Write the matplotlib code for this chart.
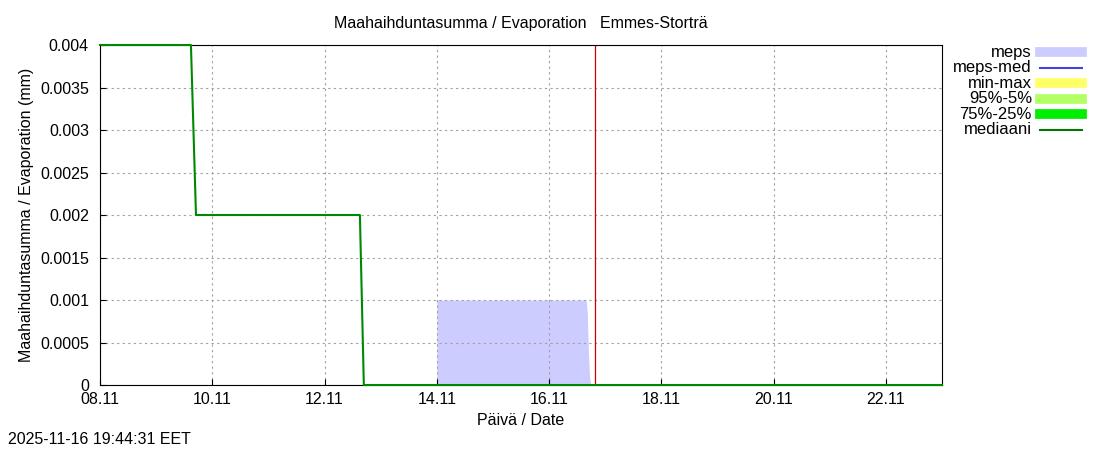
import matplotlib.pyplot as plt
import numpy as np

# days since 08.11 00:00
median_x = [0.0, 1.62, 1.71, 4.63, 4.70, 15.0]
median_y = [0.004, 0.004, 0.002, 0.002, 0.0, 0.0]

meps_x = [6.0, 6.0, 8.66, 8.68, 8.70, 8.72, 8.74]
meps_y = [0.0, 0.001, 0.001, 0.00085, 0.0004, 0.0001, 0.0]

now_x = 8.82
tick_days = [0, 2, 4, 6, 8, 10, 12, 14]
tick_labels = ["08.11", "10.11", "12.11", "14.11", "16.11", "18.11", "20.11", "22.11"]
y_ticks = [0, 0.0005, 0.001, 0.0015, 0.002, 0.0025, 0.003, 0.0035, 0.004]
y_labels = ["0", "0.0005", "0.001", "0.0015", "0.002", "0.0025", "0.003", "0.0035", "0.004"]

legend_names = ["meps", "meps-med", "min-max", "95%-5%", "75%-25%", "mediaani"]
legend_colors = ["#ccccff", "#4444dd", "#ffff66", "#b3ff66", "#00ee00", "#007700"]
legend_widths = [7, 1.5, 7, 7, 7, 1.5]

plt.rcParams["font.family"] = ["Liberation Sans", "DejaVu Sans"]
fig = plt.figure(figsize=(11, 4.5), dpi=100)
ax = fig.add_axes([0.0909, 0.1444, 0.7655, 0.7556])

ax.fill_between(meps_x, meps_y, 0, color="#ccccff", linewidth=0)
ax.plot(median_x, median_y, color="#008800", linewidth=1.5, clip_on=False, zorder=5)
ax.axvline(now_x, color="#cc0000", linewidth=0.9)

ax.set_xlim(0, 15)
ax.set_ylim(0, 0.004)
ax.set_xticks(tick_days)
ax.set_xticklabels(tick_labels)
ax.set_yticks(y_ticks)
ax.set_yticklabels(y_labels)
ax.tick_params(labelsize=11.5, direction="in", length=4)
ax.tick_params(axis="y", pad=8)
ax.tick_params(axis="x", pad=5)
ax.grid(color="#a0a0a0", linestyle=(0, (2, 3)), linewidth=0.8)
for s in ax.spines.values():
    s.set_linewidth(0.8)

ax.set_xlabel("Päivä / Date", fontsize=11.5)
ax.set_ylabel("Maahaihduntasumma / Evaporation (mm)", fontsize=11.5)
ax.set_title("Maahaihduntasumma / Evaporation   Emmes-Storträ", fontsize=11.5, pad=12)

for i, (name, col, w) in enumerate(zip(legend_names, legend_colors, legend_widths)):
    yy = 1 - (52 + i * 15.5) / 450
    fig.text(1032 / 1100, yy, name, ha="right", va="center", fontsize=12)
    fig.add_artist(plt.Line2D([1040 / 1100, 1082 / 1100], [yy, yy], color=col,
                              linewidth=w, transform=fig.transFigure))

fig.text(8 / 1100, 1 - 440 / 450, "2025-11-16 19:44:31 EET", fontsize=11.5, va="center")

fig.savefig("out.png", dpi=100)
